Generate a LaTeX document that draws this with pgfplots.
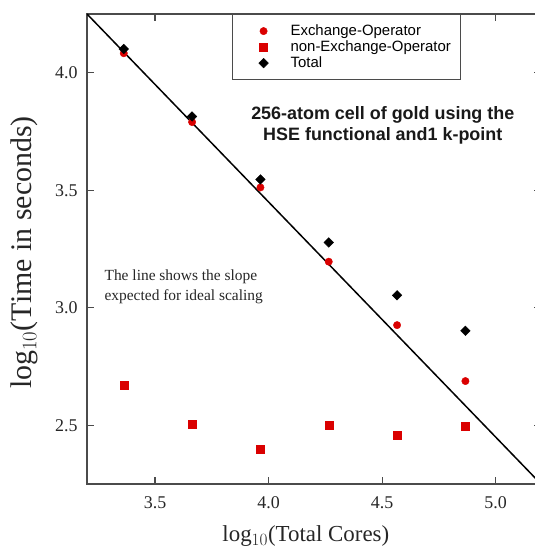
\documentclass[border=0pt]{standalone}
\usepackage{fontspec}
\setmainfont{Liberation Serif}
\newfontfamily\arial{Liberation Sans}
\usepackage{pgfplots}
\pgfplotsset{compat=1.18}
\definecolor{myred}{RGB}{218,0,0}
\definecolor{axgray}{RGB}{75,75,75}

\begin{document}
\begin{tikzpicture}
\begin{axis}[
  name=ax, at={(0,0)}, anchor=south west,
  scale only axis, width=454bp, height=470bp,
  xmin=3.2, xmax=5.2, ymin=2.25, ymax=4.25,
  xtick={3.5,4,4.5,5}, ytick={2.5,3,3.5,4},
  /pgf/number format/.cd, fixed, fixed zerofill, precision=1, assume math mode=true,
  /pgfplots/.cd,
  tick align=inside, major tick length=7bp,
  axis line style={axgray, line width=1.4bp},
  every tick/.style={axgray, line width=1.2bp},
  tick label style={font=\fontsize{18}{21}\selectfont, text=black!85},
  xticklabel style={yshift=-9bp},
  yticklabel style={xshift=-6bp},
  xlabel={log$_{10}$(Total Cores)},
  ylabel={log$_{10}$(Time in seconds)},
  every axis x label/.style={at={(axis description cs:0.482,-0.1234)}, anchor=base, font=\fontsize{23}{26}\selectfont, text=black!85},
  every axis y label/.style={at={(axis description cs:-0.1222,0.4926)}, rotate=90, anchor=base, font=\fontsize{30}{32}\selectfont, text=black!85},
  legend style={at={(axis description cs:0.3187,1)}, anchor=north west, draw=axgray, line width=1.2bp, fill=white,
    inner xsep=4.3bp, inner ysep=8.5bp, font=\arial\fontsize{15}{17}\selectfont, row sep=0pt,
    nodes={text height=11bp, text depth=3bp, inner ysep=1bp, inner xsep=5bp}},
  legend cell align=left,
  legend image code/.code={\path[draw=none] (-27bp,0bp) -- (22bp,0bp); \draw[#1, line width=0.4bp] plot coordinates {(0bp,0bp)};},
]
\addplot[only marks, mark=*, mark size=3.7bp, color=myred] coordinates {
 (3.362,4.083) (3.663,3.790) (3.964,3.512) (4.265,3.196) (4.566,2.926) (4.867,2.688)};
\addlegendentry{Exchange-Operator}
\addplot[only marks, mark=square*, mark size=4bp, color=myred] coordinates {
 (3.362,2.671) (3.663,2.504) (3.964,2.399) (4.265,2.501) (4.566,2.459) (4.867,2.497)};
\addlegendentry{non-Exchange-Operator}
\addplot[only marks, mark=square*, mark size=3.4bp, mark options={rotate=45}, color=black] coordinates {
 (3.362,4.101) (3.663,3.814) (3.964,3.546) (4.265,3.278) (4.566,3.053) (4.867,2.902)};
\addlegendentry{Total}
\addplot[black, line width=1.5bp, forget plot] coordinates {(3.2,4.25) (5.2,2.25)};
\node[font=\arial\bfseries\fontsize{18}{21}\selectfont, align=center, text=black!90] at (axis cs:4.503,3.775)
  {256-atom cell of gold using the\\HSE functional and1 k-point};
\node[font=\fontsize{15.5}{19.5}\selectfont, align=left, anchor=west, text=black!85] at (axis cs:3.262,3.09)
  {The line shows the slope\\expected for ideal scaling};
\end{axis}
\pgfresetboundingbox
\path[use as bounding box] (ax.south west) ++(-87bp,-66bp) rectangle ++(535bp,550bp);
\end{tikzpicture}
\end{document}
